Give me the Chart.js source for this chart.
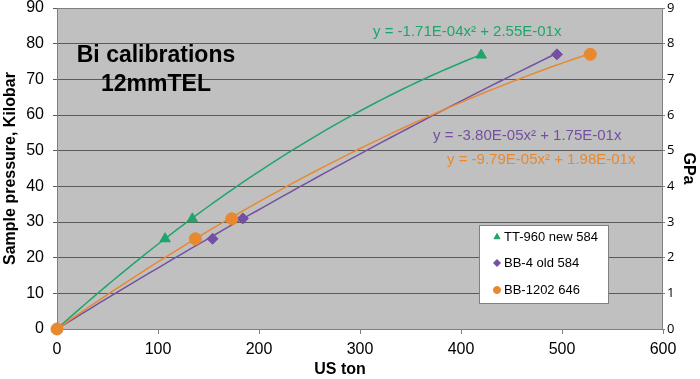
<!DOCTYPE html>
<html><head><meta charset="utf-8">
<script src="https://cdn.jsdelivr.net/npm/chart.js@4/dist/chart.umd.min.js"></script>
<style>html,body{margin:0;padding:0;background:#fff}#w{width:700px;height:379px;position:relative}</style>
</head><body><div id="w"><canvas id="c"></canvas></div>
<script>
// ---- data ----
const seriesNames = ['TT-960 new 584', 'BB-4 old 584', 'BB-1202 646'];
const ttX   = [0, 107, 134, 420];
const ttY   = [0, 25.3, 30.9, 76.8];
const bb4X  = [0, 154, 184, 495];
const bb4Y  = [0, 25.3, 31.0, 77.0];
const bb12X = [0, 137, 173, 528];
const bb12Y = [0, 25.3, 30.9, 77.0];
// polynomial trendline coefficients shown on the chart (a*x^2 + b*x)
const ttFit   = [-1.71e-4, 2.55e-1];
const bb4Fit  = [-3.80e-5, 1.75e-1];
const bb12Fit = [-9.79e-5, 1.98e-1];
const fitLabels = ['y = -1.71E-04x\u00B2 + 2.55E-01x', 'y = -3.80E-05x\u00B2 + 1.75E-01x', 'y = -9.79E-05x\u00B2 + 1.98E-01x'];
const titleLines = ['Bi calibrations', '12mmTEL'];
const xTitle = 'US ton';
const xTicks = [0, 100, 200, 300, 400, 500, 600];
const yTicks = [0, 10, 20, 30, 40, 50, 60, 70, 80, 90];
const y2Ticks = [0, 1, 2, 3, 4, 5, 6, 7, 8, 9];

const GREEN = '#1fa56b', PURPLE = '#7350a2', ORANGE = '#e8882f';
const colors = [GREEN, PURPLE, ORANGE];
const markers = ['triangle', 'rectRot', 'circle'];
const markerSize = [6, 5.5, 6];
const FONT = '"Liberation Sans", Arial, sans-serif';

function pts(xs, ys) { return xs.map((x, i) => ({x: x, y: ys[i]})); }
function trend(c, xmax) {
  const out = [];
  const n = 60;
  for (let i = 0; i <= n; i++) { const x = xmax * i / n; out.push({x: x, y: c[0]*x*x + c[1]*x}); }
  return out;
}
const xsAll = [ttX, bb4X, bb12X], ysAll = [ttY, bb4Y, bb12Y], fits = [ttFit, bb4Fit, bb12Fit];

const datasets = [];
for (let i = 0; i < 3; i++) {
  datasets.push({
    type: 'line', label: seriesNames[i] + ' fit', data: trend(fits[i], Math.max(...xsAll[i])),
    borderColor: colors[i], borderWidth: 1.5, pointRadius: 0, fill: false, tension: 0, order: 5 - i
  });
}
for (let i = 0; i < 3; i++) {
  datasets.push({
    type: 'scatter', label: seriesNames[i], data: pts(xsAll[i], ysAll[i]),
    backgroundColor: colors[i], borderColor: colors[i], pointStyle: markers[i],
    pointRadius: markerSize[i], pointHoverRadius: markerSize[i], showLine: false,
    order: 2 - i, clip: false
  });
}

const bgPlugin = {
  id: 'bg',
  beforeDraw(chart) {
    const {ctx, chartArea: a} = chart;
    ctx.save();
    ctx.fillStyle = '#fff'; ctx.fillRect(0, 0, chart.width, chart.height);
    ctx.fillStyle = '#c0c0c0'; ctx.fillRect(a.left, a.top, a.right - a.left, a.bottom - a.top);
    ctx.restore();
  },
  beforeDatasetsDraw(chart) {
    const {ctx, chartArea: a} = chart;
    ctx.save();
    ctx.strokeStyle = '#808080'; ctx.lineWidth = 1;
    ctx.strokeRect(a.left + 0.5, a.top + 0.5, a.right - a.left - 1, a.bottom - a.top);
    ctx.restore();
  },
  afterDraw(chart) {
    const {ctx} = chart;
    ctx.save();
    // chart title inside plot
    ctx.fillStyle = '#000';
    ctx.font = 'bold 23px ' + FONT;
    ctx.textAlign = 'center'; ctx.textBaseline = 'alphabetic';
    ctx.fillText(titleLines[0], 156, 62);
    ctx.fillText(titleLines[1], 156, 91);
    // x axis title
    ctx.font = 'bold 16px ' + FONT;
    ctx.textBaseline = 'middle';
    ctx.fillText(xTitle, 340, 370);
    // equations
    ctx.font = '15px ' + FONT;
    ctx.textAlign = 'left';
    const eqPos = [[373, 32], [433, 136], [447, 160]];
    for (let i = 0; i < 3; i++) {
      ctx.fillStyle = colors[i];
      ctx.fillText(fitLabels[i], eqPos[i][0], eqPos[i][1]);
    }
    // legend box
    const lx = 479, ly = 225, lw = 129, lh = 78;
    ctx.fillStyle = '#fff'; ctx.fillRect(lx, ly, lw, lh);
    ctx.strokeStyle = '#808080'; ctx.lineWidth = 1; ctx.strokeRect(lx + 0.5, ly + 0.5, lw, lh);
    ctx.font = '13px ' + FONT;
    const rows = [237, 263, 290];
    for (let i = 0; i < 3; i++) {
      ctx.fillStyle = colors[i]; ctx.strokeStyle = colors[i];
      Chart.helpers.drawPoint(ctx, {pointStyle: markers[i], radius: 3.5, borderWidth: 1}, lx + 18, rows[i]);
      ctx.fillStyle = '#000';
      ctx.fillText(seriesNames[i], lx + 25, rows[i]);
    }
    ctx.restore();
  }
};

const tickFont = {family: FONT, size: 16, lineHeight: 1};
new Chart(document.getElementById('c'), {
  data: {datasets: datasets},
  plugins: [bgPlugin],
  options: {
    responsive: true, maintainAspectRatio: false, animation: false,
    layout: {padding: {top: 8, right: 0, left: 0, bottom: 0}},
    plugins: {legend: {display: false}, tooltip: {enabled: false}},
    scales: {
      x: {
        type: 'linear', min: 0, max: 600,
        afterBuildTicks(s) { s.ticks = xTicks.map(v => ({value: v})); },
        ticks: {color: '#000', font: tickFont, padding: 8},
        grid: {drawOnChartArea: false, drawTicks: true, tickLength: 5, color: '#808080'},
        border: {display: false},
        title: {display: false},
        afterFit(s) { s.height = 50; }
      },
      y: {
        type: 'linear', position: 'left', min: 0, max: 90,
        afterBuildTicks(s) { s.ticks = yTicks.map(v => ({value: v})); },
        ticks: {color: '#000', font: tickFont, padding: 9},
        grid: {color: '#5a5a5a', lineWidth: 1, drawTicks: true, tickLength: 4},
        border: {display: false},
        title: {display: true, text: 'Sample pressure, Kilobar', color: '#000', font: {family: FONT, size: 16, weight: 'bold', lineHeight: 1.2}, padding: {top: 1, bottom: 2}},
        afterFit(s) { s.width = 57; s.paddingTop = 0; s.paddingBottom = 0; }
      },
      y2: {
        type: 'linear', position: 'right', min: 0, max: 9,
        afterBuildTicks(s) { s.ticks = y2Ticks.map(v => ({value: v})); },
        ticks: {color: '#000', font: {family: '"Open Sans", sans-serif', size: 13, lineHeight: 1}, padding: 2},
        grid: {drawOnChartArea: false, drawTicks: true, tickLength: 2, color: '#808080'},
        border: {display: false},
        title: {display: true, text: 'GPa', color: '#000', font: {family: FONT, size: 16, weight: 'bold', lineHeight: 1.2}, padding: {top: 2, bottom: 4}},
        afterFit(s) { s.width = 37; s.paddingTop = 0; s.paddingBottom = 0; }
      }
    }
  }
});
</script></body></html>
